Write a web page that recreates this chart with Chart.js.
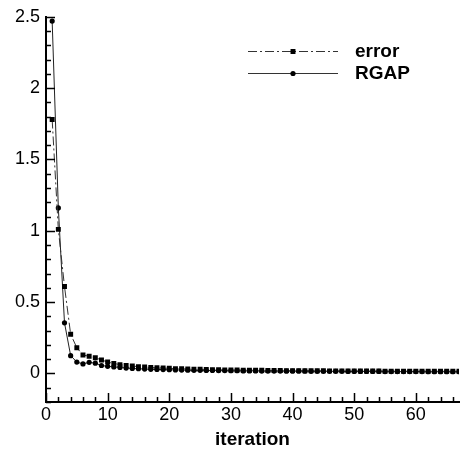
<!DOCTYPE html>
<html>
<head>
<meta charset="utf-8">
<script src="https://cdn.jsdelivr.net/npm/chart.js@4/dist/chart.umd.min.js"></script>
<style>
html,body{margin:0;padding:0;background:#fff;}
#wrap{width:463px;height:453px;}
</style>
</head>
<body>
<div id="wrap"><canvas id="c" width="463" height="453"></canvas></div>
<script>
const iterations = [1,2,3,4,5,6,7,8,9,10,11,12,13,14,15,16,17,18,19,20,21,22,23,24,25,26,27,28,29,30,31,32,33,34,35,36,37,38,39,40,41,42,43,44,45,46,47,48,49,50,51,52,53,54,55,56,57,58,59,60,61,62,63,64,65,66,67];
const errorValues = [1.78,1.01,0.61,0.275,0.18,0.13,0.12,0.11,0.095,0.08,
  0.07,0.062,0.056,0.052,0.048,0.045,0.042,0.04,0.038,0.036,
  0.034,0.033,0.031,0.03,0.029,0.028,0.027,0.026,0.025,0.024,
  0.024,0.023,0.023,0.022,0.022,0.021,0.021,0.021,0.02,0.02,
  0.02,0.019,0.019,0.019,0.019,0.018,0.018,0.018,0.018,0.018,
  0.017,0.017,0.017,0.017,0.016,0.016,0.016,0.016,0.016,0.016,
  0.015,0.015,0.015,0.015,0.015,0.015,0.015];
const rgapValues = [2.47,1.16,0.355,0.125,0.08,0.067,0.078,0.072,0.056,0.05,
  0.046,0.042,0.038,0.035,0.033,0.031,0.029,0.028,0.027,0.026,
  0.025,0.024,0.023,0.022,0.022,0.021,0.021,0.02,0.02,0.019,
  0.019,0.018,0.018,0.018,0.017,0.017,0.017,0.017,0.016,0.016,
  0.016,0.016,0.015,0.015,0.015,0.015,0.015,0.015,0.014,0.014,
  0.014,0.014,0.014,0.014,0.013,0.013,0.013,0.013,0.013,0.013,
  0.013,0.012,0.012,0.012,0.012,0.012,0.012];
const xTicks = [0,10,20,30,40,50,60];
const yTicks = [0,0.5,1,1.5,2,2.5];
const seriesNames = ['error','RGAP'];
const xTitle = 'iteration';

const FONT = "'Liberation Sans', Arial, Helvetica, sans-serif";

const toPts = (ys) => iterations.map((x,i)=>({x:x,y:ys[i]}));

const tickPlugin = {
  id:'insideTicks',
  afterDatasetsDraw(chart){
    const ctx = chart.ctx, xs = chart.scales.x, ys = chart.scales.y;
    const a = chart.chartArea;
    ctx.save();
    ctx.strokeStyle = '#000';
    ctx.lineWidth = 1.5;
    ctx.beginPath();
    for (let v = 0; v <= xs.max + 1e-9; v += 2) {
      const px = Math.round(xs.getPixelForValue(v)) + 0.5;
      const major = Math.abs(v % 10) < 1e-9;
      const len = major ? 9 : 5;
      ctx.moveTo(px, a.bottom);
      ctx.lineTo(px, a.bottom - len);
    }
    for (let k = -2; k <= 25; k++) {
      const v = k / 10;
      const py = Math.round(ys.getPixelForValue(v)) + 0.5;
      const major = (k % 5) === 0;
      const len = major ? 9 : 5;
      ctx.moveTo(a.left, py);
      ctx.lineTo(a.left + len, py);
    }
    ctx.stroke();
    ctx.restore();
  },
  afterDraw(chart){
    const ctx = chart.ctx;
    ctx.save();
    const items = [
      {y:51, dash:[9,3,2,3], style:'rect', r:3.5, color:'#333'},
      {y:73, dash:[], style:'circle', r:2.6, color:'#333'}
    ];
    items.forEach((it, i) => {
      ctx.strokeStyle = it.color;
      ctx.lineWidth = 1;
      ctx.setLineDash(it.dash);
      ctx.beginPath();
      ctx.moveTo(248, it.y + 0.5);
      ctx.lineTo(338, it.y + 0.5);
      ctx.stroke();
      ctx.setLineDash([]);
      ctx.fillStyle = '#000';
      Chart.helpers.drawPoint(ctx, {pointStyle: it.style, radius: it.r, borderWidth: 0}, 293, it.y + 0.5);
      ctx.fillStyle = '#000';
      ctx.font = 'bold 19px ' + FONT;
      ctx.textBaseline = 'middle';
      ctx.textAlign = 'left';
      ctx.fillText(seriesNames[i], 355, it.y + 1);
    });
    ctx.restore();
  }
};

new Chart(document.getElementById('c'), {
  type: 'line',
  data: {
    datasets: [
      {
        label: seriesNames[0],
        data: toPts(errorValues),
        borderColor: '#333',
        borderWidth: 1,
        borderDash: [9,3,2,3],
        pointStyle: 'rect',
        pointRadius: 3.5,
        pointBorderWidth: 0,
        pointBackgroundColor: '#000',
        pointBorderColor: '#000',
        tension: 0,
        fill: false
      },
      {
        label: seriesNames[1],
        data: toPts(rgapValues),
        borderColor: '#222',
        borderWidth: 1,
        pointStyle: 'circle',
        pointRadius: 2.6,
        pointBorderWidth: 0,
        pointBackgroundColor: '#000',
        pointBorderColor: '#000',
        tension: 0,
        fill: false
      }
    ]
  },
  options: {
    responsive: false,
    animation: false,
    devicePixelRatio: 1,
    layout: {padding: {top: 14, right: 0, left: 0, bottom: 0}},
    plugins: {legend: {display: false}, tooltip: {enabled: false}},
    scales: {
      x: {
        type: 'linear',
        min: 0, max: 67,
        border: {display: true, color: '#000', width: 2},
        grid: {display: false, drawTicks: false},
        ticks: {
          color: '#000', font: {family: FONT, size: 18}, padding: 2,
          maxRotation: 0, autoSkip: false
        },
        afterBuildTicks(scale){ scale.ticks = xTicks.map(v => ({value: v})); },
        afterFit(scale){ scale.height = 51; },
        title: {display: true, text: xTitle, color: '#000',
          font: {family: FONT, size: 19, weight: 'bold'}, padding: {top: 0, bottom: 2}}
      },
      y: {
        type: 'linear',
        min: -0.2, max: 2.5,
        border: {display: true, color: '#000', width: 2},
        grid: {display: false, drawTicks: false},
        ticks: {
          color: '#000', font: {family: FONT, size: 18}, padding: 6,
          callback: (v) => String(v)
        },
        afterBuildTicks(scale){ scale.ticks = yTicks.map(v => ({value: v})); },
        afterFit(scale){ scale.width = 46; }
      }
    }
  },
  plugins: [tickPlugin]
});
</script>
</body>
</html>
